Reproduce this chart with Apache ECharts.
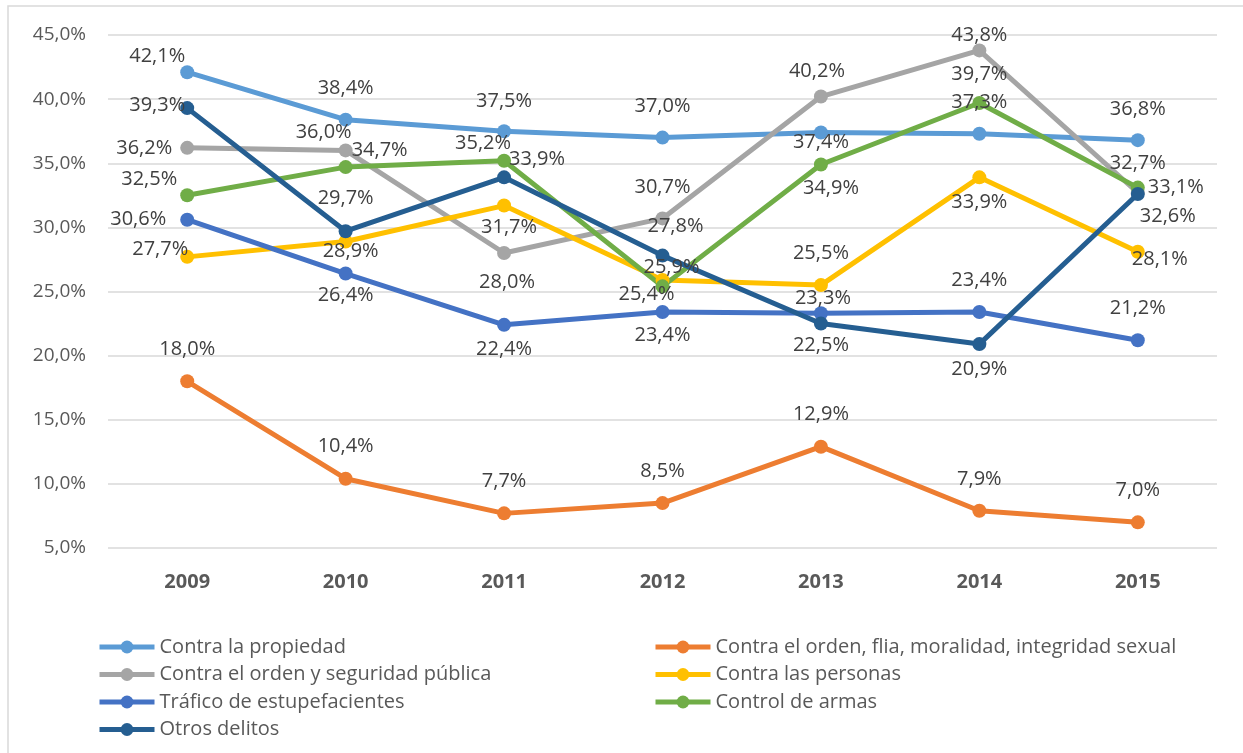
<!DOCTYPE html>
<html>
<head>
<meta charset="utf-8">
<script src="https://cdn.jsdelivr.net/npm/echarts@6/dist/echarts.min.js"></script>
<style>
    html, body { margin: 0; padding: 0; background: #fff; }
    #chart { width: 1243px; height: 753px; }
</style>
</head>
<body>
<div id="chart"></div>
<script>
// datos (porcentajes)
var years = ['2009', '2010', '2011', '2012', '2013', '2014', '2015'];
var propiedad = [42.1, 38.4, 37.5, 37.0, 37.4, 37.3, 36.8];
var ordenFlia = [18.0, 10.4, 7.7, 8.5, 12.9, 7.9, 7.0];
var seguridad = [36.2, 36.0, 28.0, 30.7, 40.2, 43.8, 32.7];
var personas = [27.7, 28.9, 31.7, 25.9, 25.5, 33.9, 28.1];
var trafico = [30.6, 26.4, 22.4, 23.4, 23.3, 23.4, 21.2];
var armas = [32.5, 34.7, 35.2, 25.4, 34.9, 39.7, 33.1];
var otros = [39.3, 29.7, 33.9, 27.8, 22.5, 20.9, 32.6];
var yMin = 5, yMax = 45, yStep = 5;

// posicion de cada etiqueta respecto al punto (px)
var labelOffsets = {
    propiedad: [[-30, -16], [0, -31], [0, -30], [0, -31], [0, 10], [0, -31], [0, -31]],
    ordenFlia: [[0, -32], [0, -32], [0, -32], [0, -32], [0, -32], [0, -32], [0, -32]],
    seguridad: [[-43, 0], [-22, -18], [3, 29], [0, -31], [-4, -25], [0, -15], [0, -29]],
    personas: [[-27, -8], [5, 10], [5, 22], [9, -13], [0, -32], [0, 25], [22, 8]],
    trafico: [[-49, 0], [0, 22], [0, 24], [0, 23], [2, -15], [0, -32], [0, -32]],
    armas: [[-38, -16], [34, -17], [-21, -17], [-16, 8], [10, 24], [0, -29], [38, 0]],
    otros: [[-30, -3], [0, -33], [33, -18], [13, -29], [0, 22], [0, 25], [30, 22]]
};

var FONT = 'Open Sans';

function pct(v) {
    return v.toFixed(1).replace('.', ',') + '%';
}

function makeSeries(name, values, offsets, color) {
    return {
        name: name,
        type: 'line',
        data: values.map(function (v, i) {
            return { value: v, label: { offset: offsets[i] } };
        }),
        symbol: 'circle',
        symbolSize: 14,
        color: color,
        lineStyle: { width: 5, color: color },
        itemStyle: { color: color },
        label: {
            show: true,
            position: 'inside',
            color: '#404040',
            fontFamily: FONT,
            fontSize: 20,
            formatter: function (p) { return pct(p.value); }
        }
    };
}

var myChart = echarts.init(document.getElementById('chart'));

var legendText = { color: '#595959', fontFamily: FONT, fontSize: 20, lineHeight: 20 };

function legendCol(left, names) {
    return {
        orient: 'vertical',
        left: left,
        top: 637,
        padding: 0,
        itemWidth: 55,
        itemHeight: 16,
        itemGap: 7.5,
        lineStyle: { width: 5 },
        textStyle: legendText,
        data: names
    };
}

var option = {
    animation: false,
    backgroundColor: '#fff',
    graphic: [{
        type: 'rect',
        shape: { x: 8, y: 6, width: 1260, height: 780 },
        style: { fill: 'none', stroke: '#D9D9D9', lineWidth: 1.5 },
        silent: true
    }],
    grid: { left: 108, right: 26, top: 35, bottom: 205 },
    legend: [
        legendCol(97, ['Contra la propiedad', 'Contra el orden y seguridad pública', 'Tráfico de estupefacientes', 'Otros delitos']),
        legendCol(653, ['Contra el orden, flia, moralidad, integridad sexual', 'Contra las personas', 'Control de armas'])
    ],
    xAxis: {
        type: 'category',
        data: years,
        boundaryGap: true,
        axisLine: { show: false },
        axisTick: { show: false },
        axisLabel: {
            color: '#595959',
            fontFamily: FONT,
            fontSize: 20,
            fontWeight: 'bold',
            margin: 24
        }
    },
    yAxis: {
        type: 'value',
        min: yMin,
        max: yMax,
        interval: yStep,
        axisLine: { show: false },
        axisTick: { show: false },
        splitLine: { lineStyle: { color: '#D9D9D9', width: 1.5 } },
        axisLabel: {
            color: '#595959',
            fontFamily: FONT,
            fontSize: 19,
            margin: 22,
            formatter: function (v) { return pct(v); }
        }
    },
    series: [
        makeSeries('Contra la propiedad', propiedad, labelOffsets.propiedad, '#5B9BD5'),
        makeSeries('Contra el orden, flia, moralidad, integridad sexual', ordenFlia, labelOffsets.ordenFlia, '#ED7D31'),
        makeSeries('Contra el orden y seguridad pública', seguridad, labelOffsets.seguridad, '#A5A5A5'),
        makeSeries('Contra las personas', personas, labelOffsets.personas, '#FFC000'),
        makeSeries('Tráfico de estupefacientes', trafico, labelOffsets.trafico, '#4472C4'),
        makeSeries('Control de armas', armas, labelOffsets.armas, '#70AD47'),
        makeSeries('Otros delitos', otros, labelOffsets.otros, '#255E91')
    ]
};

myChart.setOption(option);
</script>
</body>
</html>
